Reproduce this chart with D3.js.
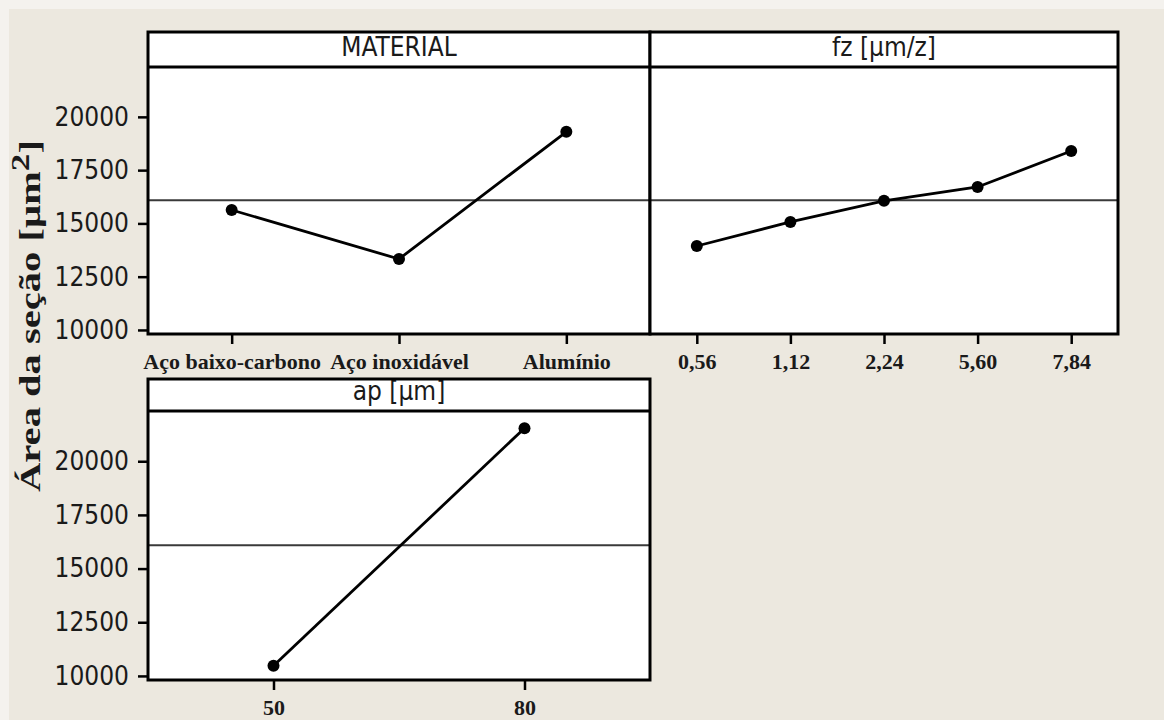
<!DOCTYPE html>
<html lang="pt">
<head>
<meta charset="utf-8">
<script src="https://d3js.org/d3.v7.min.js"></script>
<style>
  *{margin:0;padding:0}
  body{width:1164px;height:720px;background:#f4f2ee;overflow:hidden}
  svg{display:block}
  .tick text{fill:#1a1a1a}
</style>
</head>
<body>
<script>
// data
const materialCats = ['Aço baixo-carbono', 'Aço inoxidável', 'Alumínio'];
const materialVals = [15630, 13330, 19300];
const fzCats = ['0,56', '1,12', '2,24', '5,60', '7,84'];
const fzVals = [13940, 15070, 16060, 16710, 18400];
const apCats = ['50', '80'];
const apVals = [10470, 21540];
const grandMean = 16090;
const yTicks = [10000, 12500, 15000, 17500, 20000];
const yDomain = [9810, 22340];

const W = 1164, H = 720;
const svg = d3.select('body').append('svg').attr('width', W).attr('height', H);

svg.append('rect').attr('x', 9).attr('y', 9).attr('width', W - 9).attr('height', H - 9).attr('fill', '#ece8df');

const panels = [
  {title: 'MATERIAL', cats: materialCats, vals: materialVals, x0: 148, x1: 650, top: 32, head: 67, bottom: 334, yaxis: true},
  {title: 'fz [μm/z]', cats: fzCats, vals: fzVals, x0: 650, x1: 1118, top: 32, head: 67, bottom: 334, yaxis: false},
  {title: 'ap [μm]', cats: apCats, vals: apVals, x0: 148, x1: 650, top: 379, head: 411, bottom: 680, yaxis: true}
];

const sansFont = '"DejaVu Sans Condensed","DejaVu Sans",sans-serif';
const serifFont = '"Liberation Serif","Times New Roman",serif';

panels.forEach(p => {
  const g = svg.append('g');
  const x = d3.scalePoint().domain(p.cats).range([p.x0, p.x1]).padding(0.5);
  const y = d3.scaleLinear().domain(yDomain).range([p.bottom, p.head]);

  // header strip
  g.append('rect').attr('x', p.x0).attr('y', p.top).attr('width', p.x1 - p.x0).attr('height', p.head - p.top)
    .attr('fill', '#fff');
  g.append('text').attr('x', (p.x0 + p.x1) / 2).attr('y', p.head - 11)
    .attr('text-anchor', 'middle').attr('font-family', sansFont).attr('font-size', 26)
    .attr('fill', '#1a1a1a').text(p.title);

  // plot area
  g.append('rect').attr('x', p.x0).attr('y', p.head).attr('width', p.x1 - p.x0).attr('height', p.bottom - p.head)
    .attr('fill', '#fff');

  // reference line at the overall mean
  g.append('line').attr('x1', p.x0).attr('x2', p.x1).attr('y1', y(grandMean)).attr('y2', y(grandMean))
    .attr('stroke', '#3a3a3a').attr('stroke-width', 2);

  const pts = p.cats.map((c, i) => [x(c), y(p.vals[i])]);
  g.append('path').attr('d', d3.line()(pts)).attr('fill', 'none').attr('stroke', '#000').attr('stroke-width', 2.8);
  g.selectAll('circle.pt').data(pts).join('circle').attr('class', 'pt')
    .attr('cx', d => d[0]).attr('cy', d => d[1]).attr('r', 6).attr('fill', '#000');

  // frames
  g.append('rect').attr('x', p.x0).attr('y', p.top).attr('width', p.x1 - p.x0).attr('height', p.bottom - p.top)
    .attr('fill', 'none').attr('stroke', '#000').attr('stroke-width', 3);
  g.append('line').attr('x1', p.x0).attr('x2', p.x1).attr('y1', p.head).attr('y2', p.head)
    .attr('stroke', '#000').attr('stroke-width', 3);

  // x axis
  const xa = g.append('g').attr('transform', `translate(0,${p.bottom})`)
    .call(d3.axisBottom(x).tickSize(10).tickPadding(9));
  xa.select('.domain').remove();
  xa.selectAll('.tick line').attr('stroke', '#000').attr('stroke-width', 2.5);
  xa.selectAll('.tick text').attr('font-family', serifFont).attr('font-weight', 'bold').attr('font-size', 22);

  if (p.yaxis) {
    const ya = g.append('g').attr('transform', `translate(${p.x0},0)`)
      .call(d3.axisLeft(y).tickValues(yTicks).tickSize(10).tickPadding(9).tickFormat(d3.format('d')));
    ya.select('.domain').remove();
    ya.selectAll('.tick line').attr('stroke', '#000').attr('stroke-width', 2.5);
    ya.selectAll('.tick text').attr('font-family', sansFont).attr('font-size', 26);
  }
});

// y axis title, stretched along its baseline like the source image
const yt = svg.append('text').attr('font-family', serifFont).attr('font-weight', 'bold').attr('font-size', 30)
  .attr('fill', '#1a1a1a').attr('text-anchor', 'middle');
yt.append('tspan').text('Área da seção [μm');
yt.append('tspan').attr('dy', -11).attr('font-size', 26).text('2');
yt.append('tspan').attr('dy', 11).text(']');
const len = yt.node().getComputedTextLength();
yt.attr('transform', `translate(40,316) rotate(-90) scale(${352 / len},1)`);
</script>
</body>
</html>
